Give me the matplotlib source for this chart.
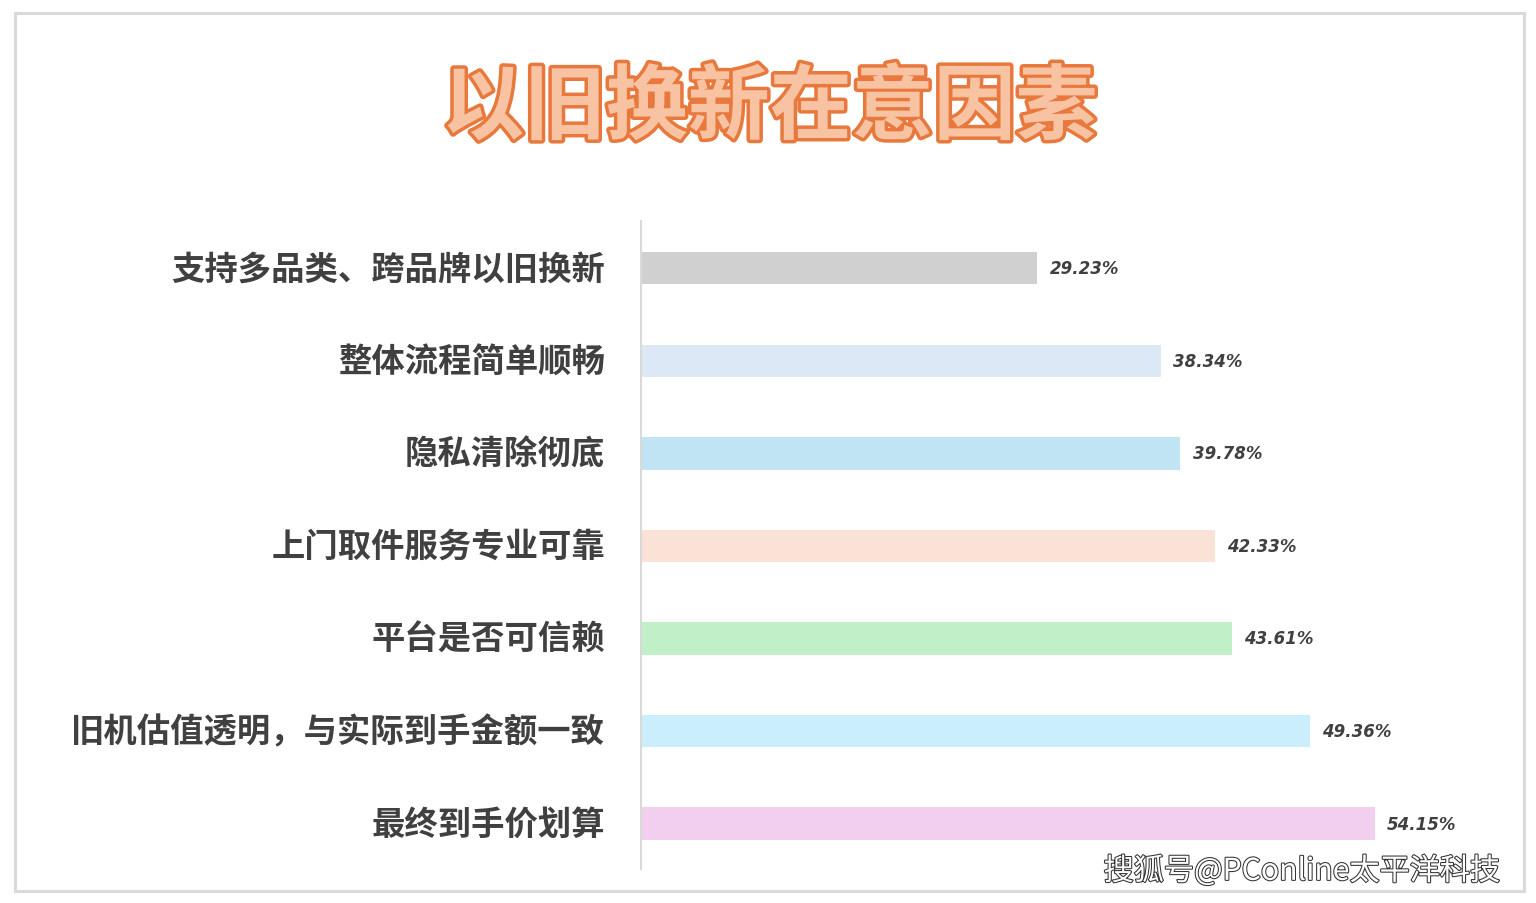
import matplotlib
matplotlib.use("Agg")
import matplotlib.pyplot as plt
import matplotlib.patheffects as pe
from matplotlib.patches import Rectangle

plt.rcParams['font.family'] = ['Noto Sans CJK SC', 'DejaVu Sans']

# data (top to bottom)
factors = ["支持多品类、跨品牌以旧换新", "整体流程简单顺畅", "隐私清除彻底",
           "上门取件服务专业可靠", "平台是否可信赖", "旧机估值透明，与实际到手金额一致",
           "最终到手价划算"]
shares = [29.23, 38.34, 39.78, 42.33, 43.61, 49.36, 54.15]
bar_colors = ["#d0d0d0", "#dce8f5", "#c0e4f4", "#fae3d6", "#c1f0c8", "#caeefb", "#f2cfee"]

fig = plt.figure(figsize=(15.36, 9.04), dpi=100)

# outer frame
fig.patches.append(Rectangle((15 / 1536, 1 - 892 / 904), 1509 / 1536, 878 / 904,
                             transform=fig.transFigure, fill=False,
                             edgecolor="#d9d9d9", linewidth=2.2))

ax = fig.add_axes([641 / 1536, 1 - 870 / 904, 859 / 1536, 648 / 904])
y = list(range(len(factors)))
ax.barh([v + 0.01 for v in y], shares, height=0.35, color=bar_colors)
ax.set_ylim(len(factors) - 0.5, -0.5)
ax.set_xlim(0, 859 / 13.55)

for s in ["top", "right", "bottom"]:
    ax.spines[s].set_visible(False)
ax.spines["left"].set_color("#d9d9d9")
ax.spines["left"].set_linewidth(1.5)
ax.set_xticks([])
ax.set_yticks([v - 0.02 for v in y])
ax.set_yticklabels(factors, fontsize=24, fontweight="bold", color="#404040")
ax.tick_params(axis="y", length=0, pad=26)

for yi, v in zip(y, shares):
    ax.annotate(f"{v:.2f}%", (v, yi + 0.01), xytext=(9, 0), textcoords="offset points",
                va="center", ha="left", fontsize=12, fontweight="bold",
                fontstyle="italic", color="#404040", family="DejaVu Sans")

# title
fig.text(770 / 1536, 1 - 110 / 904, "以旧换新在意因素", ha="center", va="center",
         fontsize=59, fontweight="heavy", color="#f8c3a3",
         path_effects=[pe.withStroke(linewidth=5, foreground="#e8783c")])

# watermark
fig.text(1500 / 1536, 1 - 872 / 904, "搜狐号@PConline太平洋科技", ha="right", va="center",
         fontsize=21.7, color="white",
         path_effects=[pe.withStroke(linewidth=1.5, foreground="#333333")])

fig.savefig("out.png", dpi=100, facecolor="white")
